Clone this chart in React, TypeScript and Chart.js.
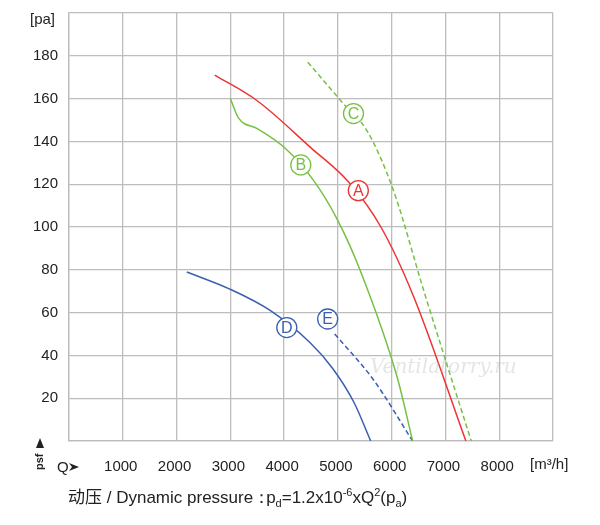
import React, { useEffect, useRef } from "react";
import { Chart, registerables } from "chart.js";
Chart.register(...registerables);

const xTicks = [1000, 2000, 3000, 4000, 5000, 6000, 7000, 8000];
const yTicks = [20, 40, 60, 80, 100, 120, 140, 160, 180];
const curveA = [[2710,171],[3500,159],[4500,137],[5200,121],[5800,100],[6400,68],[7380,0]];
const curveB = [[3000,160],[3150,151],[3500,146],[4010,137],[4540,122],[5000,103],[5410,80],[6100,30],[6390,0]];
const curveC = [[4440,177],[5090,158],[5540,145],[6020,118],[6600,70],[7100,30],[7480,0]];
const curveD = [[2190,79],[2990,71],[3740,61],[4480,46],[4900,34],[5300,18],[5610,0]];
const curveE = [[4940,50],[5650,29],[6390,0]];
const labels = [
  { t: "A", x: 5380, y: 117, c: "#ee3333" },
  { t: "B", x: 4310, y: 129, c: "#77c043" },
  { t: "C", x: 5290, y: 153, c: "#77c043" },
  { t: "D", x: 4050, y: 53, c: "#3a5fb0" },
  { t: "E", x: 4810, y: 57, c: "#3a5fb0" },
];

const RED = "#ee3333", GREEN = "#77c043", BLUE = "#3a5fb0";
const FONT = "'Liberation Sans', Arial, sans-serif";

const toPts = (a: number[][]) => a.map(([x, y]) => ({ x, y }));

export default function App() {
  const ref = useRef<HTMLCanvasElement>(null);
  useEffect(() => {
    const ds = (d: number[][], c: string, dash: number[] = []) => ({
      data: toPts(d), borderColor: c, borderWidth: 1.5, borderDash: dash,
      pointRadius: 0, cubicInterpolationMode: "monotone" as const, fill: false,
    });
    const textPlugin = {
      id: "txt",
      afterDatasetsDraw(chart: any) {
        const { ctx, scales } = chart;
        const xs = scales.x, ys = scales.y;
        ctx.save();
        labels.forEach((l) => {
          const px = xs.getPixelForValue(l.x), py = ys.getPixelForValue(l.y);
          ctx.beginPath(); ctx.arc(px, py, 10, 0, Math.PI * 2);
          ctx.fillStyle = "#fff"; ctx.fill();
          ctx.lineWidth = 1.3; ctx.strokeStyle = l.c; ctx.stroke();
          ctx.fillStyle = l.c; ctx.font = `16px ${FONT}`;
          ctx.textAlign = "center"; ctx.textBaseline = "middle";
          ctx.fillText(l.t, px, py + 1);
        });
        ctx.font = `italic 20px 'DejaVu Serif', serif`;
        ctx.fillStyle = "rgba(180,180,180,0.35)";
        ctx.textAlign = "left";
        ctx.fillText("Ventilatorry.ru", 370, 368);
        ctx.fillStyle = "#222";
        ctx.font = `15px ${FONT}`;
        ctx.textAlign = "right"; ctx.textBaseline = "middle";
        yTicks.forEach((v) => ctx.fillText(String(v), 58, ys.getPixelForValue(v)));
        ctx.textAlign = "left";
        ctx.fillText("[pa]", 30, 20);
        ctx.textAlign = "center";
        xTicks.forEach((v) => ctx.fillText(String(v), xs.getPixelForValue(v) - 2, 467));
        ctx.textAlign = "left";
        ctx.fillText("[m³/h]", 530, 465);
        ctx.fillText("Q", 57, 468);
        ctx.beginPath(); ctx.moveTo(69, 463); ctx.lineTo(79, 467); ctx.lineTo(69, 471); ctx.lineTo(72, 467); ctx.closePath(); ctx.fill();
        ctx.save(); ctx.translate(40, 470); ctx.rotate(-Math.PI / 2);
        ctx.font = `bold 11px ${FONT}`; ctx.textAlign = "left";
        ctx.fillText("psf", 0, 0);
        ctx.beginPath(); ctx.moveTo(22, -4); ctx.lineTo(32, 0); ctx.lineTo(22, 4); ctx.closePath(); ctx.fill();
        ctx.restore();
        ctx.textAlign = "left"; ctx.textBaseline = "alphabetic";
        let x = 68; const y = 503;
        const put = (s: string, dy = 0, size = 17) => { ctx.font = `${size}px ${FONT}`; ctx.fillText(s, x, y + dy); x += ctx.measureText(s).width; };
        ctx.font = `17px 'Noto Sans CJK SC', ${FONT}`;
        ctx.fillText("动压", x, y); x += ctx.measureText("动压").width;
        put(" / Dynamic pressure："); x -= 4;
        put("p"); put("d", 4, 11); put("=1.2x10"); put("-6", -7, 11); put("xQ"); put("2", -7, 11); put("(p"); put("a", 4, 11); put(")");
        ctx.restore();
      },
    };
    const chart = new Chart(ref.current!, {
      type: "line",
      data: {
        datasets: [ds(curveA, RED), ds(curveB, GREEN), ds(curveC, GREEN, [5, 3]), ds(curveD, BLUE), ds(curveE, BLUE, [5, 3])],
      },
      options: {
        animation: false, responsive: false,
        layout: { padding: { left: 69, right: 47, top: 13, bottom: 84 } },
        plugins: { legend: { display: false }, tooltip: { enabled: false } },
        scales: {
          x: { type: "linear", min: 0, max: 9000, ticks: { display: false, stepSize: 1000 },
               grid: { color: "#bdbdbd", lineWidth: 1.3, drawTicks: false }, border: { color: "#bdbdbd", width: 1.3 } },
          y: { min: 0, max: 200, ticks: { display: false, stepSize: 20 },
               grid: { color: "#bdbdbd", lineWidth: 1.3, drawTicks: false }, border: { color: "#bdbdbd", width: 1.3 } },
        },
      },
      plugins: [textPlugin],
    });
    return () => chart.destroy();
  }, []);
  return (
    <div style={{ position: "fixed", left: 0, top: 0, width: 600, height: 525, background: "#fff" }}>
      <canvas ref={ref} width={600} height={525} style={{ width: 600, height: 525 }} />
    </div>
  );
}
